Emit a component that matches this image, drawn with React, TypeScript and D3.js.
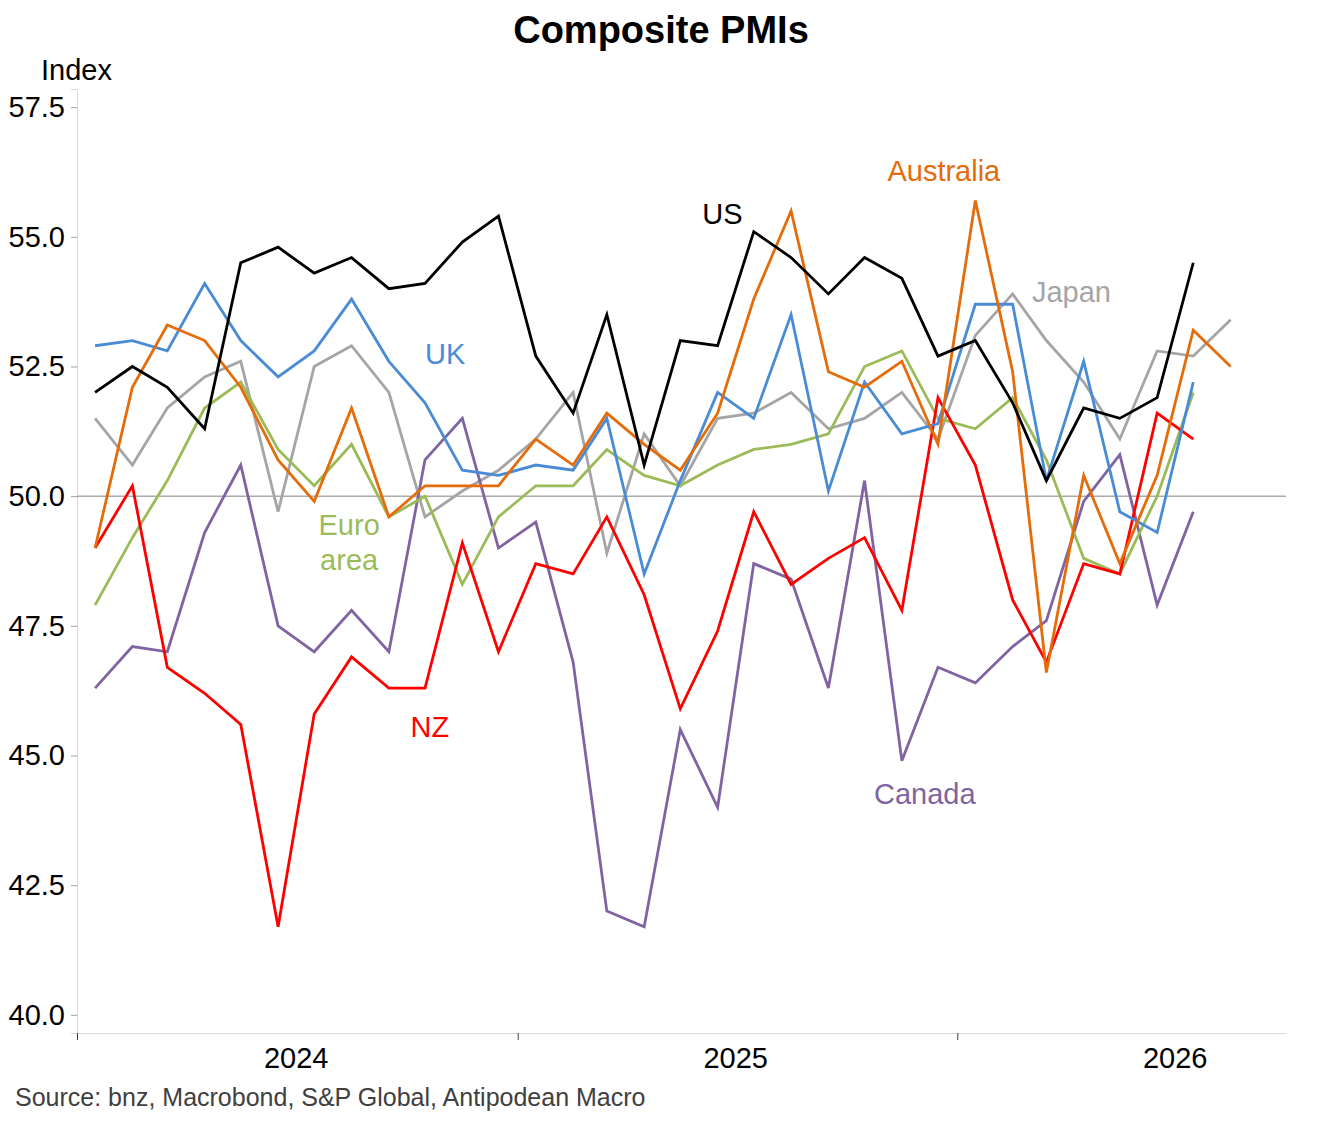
import React, {useEffect, useRef} from 'react';
import {select, scaleTime, scaleLinear, line, axisLeft, axisBottom, format} from 'd3';

// monthly composite PMIs, first value = Jan 2024
const us = [52.0, 52.5, 52.1, 51.3, 54.5, 54.8, 54.3, 54.6, 54.0, 54.1, 54.9, 55.4,
    52.7, 51.6, 53.5, 50.6, 53.0, 52.9, 55.1, 54.6, 53.9, 54.6, 54.2, 52.7,
    53.0, 51.8, 50.3, 51.7, 51.5, 51.9, 54.5];
const uk = [52.9, 53.0, 52.8, 54.1, 53.0, 52.3, 52.8, 53.8, 52.6, 51.8, 50.5, 50.4,
    50.6, 50.5, 51.5, 48.5, 50.3, 52.0, 51.5, 53.5, 50.1, 52.2, 51.2, 51.4,
    53.7, 53.7, 50.3, 52.6, 49.7, 49.3, 52.2];
const euroArea = [47.9, 49.2, 50.3, 51.7, 52.2, 50.9, 50.2, 51.0, 49.6, 50.0, 48.3, 49.6,
    50.2, 50.2, 50.9, 50.4, 50.2, 50.6, 50.9, 51.0, 51.2, 52.5, 52.8, 51.5,
    51.3, 51.9, 50.7, 48.8, 48.5, 50.0, 52.0];
const japan = [51.5, 50.6, 51.7, 52.3, 52.6, 49.7, 52.5, 52.9, 52.0, 49.6, 50.1, 50.5,
    51.1, 52.0, 48.9, 51.2, 50.2, 51.5, 51.6, 52.0, 51.3, 51.5, 52.0, 51.1,
    53.1, 53.9, 53.0, 52.2, 51.1, 52.8, 52.7, 53.4];
const australia = [49.0, 52.1, 53.3, 53.0, 52.1, 50.7, 49.9, 51.7, 49.6, 50.2, 50.2, 50.2,
    51.1, 50.6, 51.6, 51.0, 50.5, 51.6, 53.8, 55.5, 52.4, 52.1, 52.6, 51.0,
    55.7, 52.4, 46.6, 50.4, 48.7, 50.4, 53.2, 52.5];
const nz = [49.0, 50.2, 46.7, 46.2, 45.6, 41.7, 45.8, 46.9, 46.3, 46.3, 49.1, 47.0,
    48.7, 48.5, 49.6, 48.1, 45.9, 47.4, 49.7, 48.3, 48.8, 49.2, 47.8, 51.9,
    50.6, 48.0, 46.8, 48.7, 48.5, 51.6, 51.1];
const canada = [46.3, 47.1, 47.0, 49.3, 50.6, 47.5, 47.0, 47.8, 47.0, 50.7, 51.5, 49.0,
    49.5, 46.8, 42.0, 41.7, 45.5, 44.0, 48.7, 48.4, 46.3, 50.3, 44.9, 46.7,
    46.4, 47.1, 47.6, 49.9, 50.8, 47.9, 49.7];

const yTicks = [40, 42.5, 45, 47.5, 50, 52.5, 55, 57.5];
const years = [2024, 2025, 2026];

const series = [
    {name: 'Japan', values: japan, color: '#a5a5a5'},
    {name: 'Canada', values: canada, color: '#8064a2'},
    {name: 'Euro area', values: euroArea, color: '#9bbb59'},
    {name: 'NZ', values: nz, color: '#ff0000'},
    {name: 'UK', values: uk, color: '#4a8bd6'},
    {name: 'Australia', values: australia, color: '#e46c0a'},
    {name: 'US', values: us, color: '#000000'},
];

// label spots in data coords (date, value at baseline)
const labels = [
    {text: ['US'], date: '2025-06-20', v: 55.25, color: '#000000', anchor: 'middle'},
    {text: ['Australia'], date: '2025-11-04', v: 56.07, color: '#e46c0a', anchor: 'start'},
    {text: ['Japan'], date: '2026-03-04', v: 53.75, color: '#a5a5a5', anchor: 'start'},
    {text: ['UK'], date: '2024-10-16', v: 52.55, color: '#4a8bd6', anchor: 'start'},
    {text: ['Euro', 'area'], date: '2024-08-14', v: 49.26, color: '#9bbb59', anchor: 'middle'},
    {text: ['NZ'], date: '2024-10-04', v: 45.36, color: '#ff0000', anchor: 'start'},
    {text: ['Canada'], date: '2025-12-05', v: 44.06, color: '#8064a2', anchor: 'middle'},
];

const W = 1323;
const H = 1122;
const font = "Arial, 'Liberation Sans', sans-serif";

const monthDate = (i: number) => new Date(2024, i, 16);
const parseDay = (s: string) => {
    const [yy, mm, dd] = s.split('-').map(Number);
    return new Date(yy, mm - 1, dd);
};

const App = (): JSX.Element => {
    const svgRef = useRef(null);

    const x = scaleTime()
        .domain([new Date(2024, 0, 1), new Date(2026, 9, 1)])
        .range([77, 1286]);
    const y = scaleLinear().domain([39.65, 57.85]).range([1033, 89]);

    useEffect(() => {
        const svg = select(svgRef.current);

        const yAxis = axisLeft(y).tickValues(yTicks).tickFormat(format('.1f')).tickSize(6).tickPadding(6);
        const gy = svg.select('.y-axis').attr('transform', 'translate(77,0)').call(yAxis as any);
        gy.select('.domain').attr('stroke', '#d9d9d9');
        gy.selectAll('.tick line').attr('stroke', '#a0a0a0');
        gy.selectAll('.tick text').attr('font-size', 29).attr('font-family', font).attr('fill', '#000');

        const xAxis = axisBottom(x)
            .tickValues(years.map(yr => new Date(yr, 0, 1)))
            .tickFormat(() => '')
            .tickSizeInner(7)
            .tickSizeOuter(0);
        const gx = svg.select('.x-axis').attr('transform', 'translate(0,1033)').call(xAxis as any);
        gx.select('.domain').attr('stroke', '#d9d9d9');
        gx.selectAll('.tick line').attr('stroke', '#404040');

        const myLine = line<number>()
            .x((_, i) => x(monthDate(i)))
            .y(v => y(v));

        svg.select('.lines')
            .selectAll('path')
            .data(series)
            .join('path')
            .attr('d', d => myLine(d.values))
            .attr('fill', 'none')
            .attr('stroke', d => d.color)
            .attr('stroke-width', 2.8)
            .attr('stroke-linejoin', 'miter');
    }, []);

    return (
        <svg
            ref={svgRef}
            xmlns="http://www.w3.org/2000/svg"
            width={W}
            height={H}
            viewBox={`0 0 ${W} ${H}`}
            style={{position: 'absolute', left: 0, top: 0, background: '#fff'}}
        >
            <text x={661} y={43} textAnchor="middle" fontFamily={font} fontWeight="bold" fontSize={38}>
                Composite PMIs
            </text>
            <text x={41} y={80} fontFamily={font} fontSize={29}>Index</text>
            <g className="y-axis"></g>
            <g className="x-axis"></g>
            <line x1={77} x2={1286} y1={y(50)} y2={y(50)} stroke="#808080" strokeWidth={1} />
            <g className="lines"></g>
            {years.map(yr => (
                <text key={yr} x={x(new Date(yr, 6, 1))} y={1068} textAnchor="middle" fontFamily={font} fontSize={29}>
                    {yr}
                </text>
            ))}
            {labels.map(l => {
                const lx = x(parseDay(l.date));
                return (
                    <text key={l.text[0]} x={lx} y={y(l.v)} textAnchor={l.anchor as any}
                          fontFamily={font} fontSize={29} fill={l.color}>
                        {l.text.map((t, i) => (
                            <tspan key={t} x={lx} dy={i === 0 ? 0 : 35}>{t}</tspan>
                        ))}
                    </text>
                );
            })}
            <text x={15} y={1106} fontFamily={font} fontSize={25} fill="#404040">
                Source: bnz, Macrobond, S&amp;P Global, Antipodean Macro
            </text>
        </svg>
    );
};

export default App;
